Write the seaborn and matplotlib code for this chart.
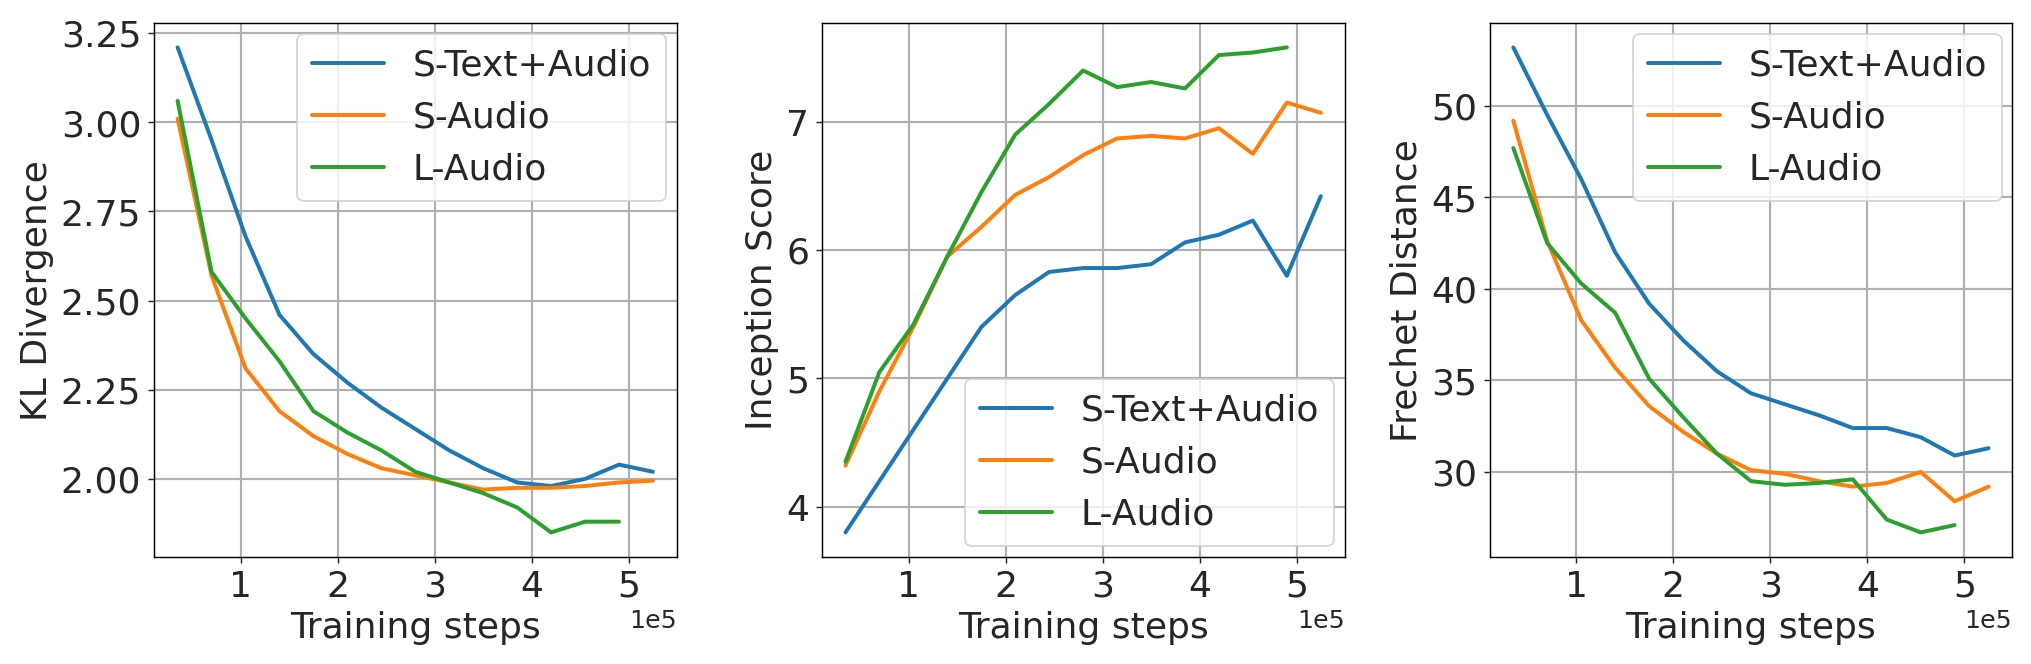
import numpy as np
import pandas as pd
import matplotlib
matplotlib.use("Agg")
import matplotlib.pyplot as plt
import seaborn as sns

steps = [35000 * i for i in range(1, 16)]
series = ["S-Text+Audio", "S-Audio", "L-Audio"]

kl_st = [3.21, 2.95, 2.68, 2.46, 2.35, 2.27, 2.20, 2.14, 2.08, 2.03, 1.99, 1.98, 2.00, 2.04, 2.02]
kl_sa = [3.01, 2.57, 2.31, 2.19, 2.12, 2.07, 2.03, 2.01, 1.99, 1.97, 1.975, 1.975, 1.98, 1.99, 1.995]
kl_la = [3.06, 2.58, 2.45, 2.33, 2.19, 2.13, 2.08, 2.02, 1.99, 1.96, 1.92, 1.85, 1.88, 1.88]

is_st = [3.80, 4.20, 4.60, 5.00, 5.40, 5.65, 5.83, 5.86, 5.86, 5.89, 6.06, 6.12, 6.23, 5.80, 6.42]
is_sa = [4.32, 4.90, 5.40, 5.95, 6.18, 6.43, 6.57, 6.74, 6.87, 6.89, 6.87, 6.95, 6.75, 7.15, 7.07]
is_la = [4.35, 5.05, 5.42, 5.95, 6.45, 6.90, 7.14, 7.40, 7.27, 7.31, 7.26, 7.52, 7.54, 7.58]

fd_st = [53.2, 49.5, 46.0, 42.0, 39.2, 37.2, 35.5, 34.3, 33.7, 33.1, 32.4, 32.4, 31.9, 30.9, 31.3]
fd_sa = [49.2, 42.6, 38.3, 35.7, 33.6, 32.2, 31.0, 30.1, 29.9, 29.5, 29.2, 29.4, 30.0, 28.4, 29.2]
fd_la = [47.7, 42.5, 40.3, 38.7, 35.1, 33.0, 31.0, 29.5, 29.3, 29.4, 29.6, 27.4, 26.7, 27.1]

def frame(a, b, c):
    rows = []
    for name, vals in zip(series, [a, b, c]):
        for s, v in zip(steps, vals):
            rows.append((s, v, name))
    return pd.DataFrame(rows, columns=["step", "value", "series"])

sns.set_style("ticks")
plt.rcParams["font.family"] = ["DejaVu Sans"]
fs = 20

fig, axes = plt.subplots(1, 3, figsize=(15.63, 5.11), dpi=130)
specs = [
    (axes[0], frame(kl_st, kl_sa, kl_la), "KL Divergence", "upper right"),
    (axes[1], frame(is_st, is_sa, is_la), "Inception Score", "lower right"),
    (axes[2], frame(fd_st, fd_sa, fd_la), "Frechet Distance", "upper right"),
]
pal = ["#1f77b4", "#ff7f0e", "#2ca02c"]
for ax, df, ylab, loc in specs:
    sns.lineplot(data=df, x="step", y="value", hue="series", palette=pal, ax=ax, linewidth=2.2)
    ax.grid(True, color="#b0b0b0", linewidth=1.2)
    ax.set_xlabel("Training steps", fontsize=fs)
    ax.set_ylabel(ylab, fontsize=fs)
    ax.tick_params(labelsize=fs)
    ax.ticklabel_format(axis="x", style="sci", scilimits=(0, 0))
    ax.xaxis.get_offset_text().set_fontsize(14)
    ax.set_xticks([100000, 200000, 300000, 400000, 500000])
    for sp in ax.spines.values():
        sp.set_visible(True)
        sp.set_color("black")
    ax.legend(title=None, loc=loc, fontsize=fs, borderaxespad=0.3)

axes[0].set_yticks([2.0, 2.25, 2.5, 2.75, 3.0, 3.25])
axes[0].set_yticklabels(["2.00", "2.25", "2.50", "2.75", "3.00", "3.25"])
axes[1].set_yticks([4, 5, 6, 7])
axes[2].set_yticks([30, 35, 40, 45, 50])

plt.tight_layout(w_pad=2.5)
fig.savefig("out.png", dpi=130)
